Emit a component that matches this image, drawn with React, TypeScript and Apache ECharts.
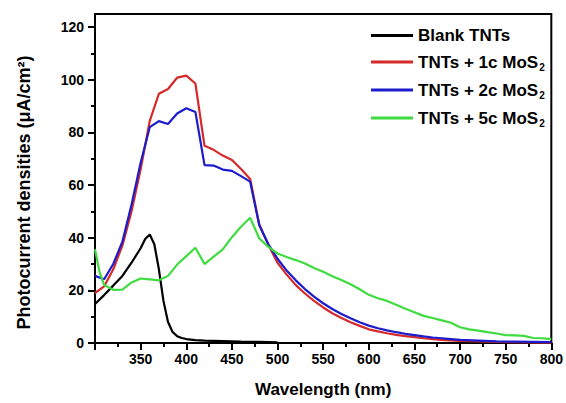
import React, { useEffect, useRef } from "react";
import * as echarts from "echarts";

const seriesNames = ["Blank TNTs", "TNTs + 1c MoS2", "TNTs + 2c MoS2", "TNTs + 5c MoS2"];
const seriesColors = ["#000000", "#d62a2a", "#1c1ccc", "#3fdc3f"];

const blankX = [300, 310, 320, 330, 340, 350, 355, 360, 365, 370, 375, 380, 385, 390, 395, 400, 410, 420, 440, 460, 480, 500];
const blankY = [14.8, 18.2, 21.8, 25.5, 30.5, 36, 39.5, 41.2, 37.5, 28, 16, 8, 4.2, 2.6, 1.9, 1.5, 1.1, 0.9, 0.7, 0.5, 0.4, 0.2];

const mosX = [300, 310, 320, 330, 340, 350, 360, 370, 380, 390, 400, 410, 420, 430, 440, 450, 460, 470, 480, 490, 500,
  510, 520, 530, 540, 550, 560, 570, 580, 590, 600, 610, 620, 630, 640, 650, 660, 670, 680, 690, 700, 720, 740, 760, 780, 800];
const mos1cY = [19, 21.5, 28, 37, 50, 66, 84.4, 94.7, 96.5, 100.8, 101.6, 98.6, 74.9, 73.4, 71.2, 69.5, 66.1, 62.3, 45, 37.2, 30.5,
  26, 22, 18.8, 16, 13.5, 11.3, 9.5, 7.9, 6.5, 5.2, 4.4, 3.7, 3.1, 2.6, 2.2, 1.8, 1.5, 1.2, 1.0, 0.8, 0.6, 0.4, 0.3, 0.2, 0.1];
const mos2cY = [25.5, 24.2, 30, 38.5, 52.5, 68.5, 82, 84.3, 83.2, 87.2, 89.2, 87.8, 67.6, 67.4, 65.9, 65.4, 63.4, 61.3, 44.7, 37.5, 32,
  27.5, 23.8, 20.5, 17.6, 15.1, 12.9, 11, 9.4, 7.9, 6.6, 5.6, 4.8, 4.1, 3.5, 3.0, 2.5, 2.1, 1.8, 1.5, 1.2, 0.9, 0.6, 0.5, 0.4, 0.3];

const mos5cX = [300, 305, 310, 320, 330, 340, 350, 360, 370, 380, 390, 400, 410, 420, 430, 440, 450, 460, 470, 480, 490, 500,
  510, 520, 530, 540, 550, 560, 570, 580, 590, 600, 610, 620, 630, 640, 650, 660, 670, 680, 690, 700,
  710, 720, 730, 740, 750, 760, 770, 780, 790, 800];
const mos5cY = [35.6, 27, 22, 20.2, 20.3, 23, 24.5, 24.2, 23.8, 25.5, 29.8, 33, 36.2, 30, 32.8, 35.6, 40.2, 44.2, 47.6, 39.7, 36.5, 34,
  32.7, 31.5, 30.2, 28.5, 27.1, 25.4, 23.9, 22.3, 20.4, 18.3, 17, 16, 14.5, 13, 11.7, 10.3, 9.5, 8.6, 7.7, 6,
  5.2, 4.7, 4.1, 3.6, 3.0, 2.9, 2.7, 1.9, 1.8, 1.5];

const yTicks = [0, 20, 40, 60, 80, 100, 120];

const FONT = "'Liberation Sans', Arial, sans-serif";

function pairs(xs: number[], ys: number[]) {
  return xs.map((x, i) => [x, ys[i]]);
}

export default function App() {
  const ref = useRef<HTMLDivElement>(null);
  useEffect(() => {
    if (!ref.current) return;
    const chart = echarts.init(ref.current, null, { renderer: "svg" });
    const datasets = [
      pairs(blankX, blankY),
      pairs(mosX, mos1cY),
      pairs(mosX, mos2cY),
      pairs(mos5cX, mos5cY),
    ];
    chart.setOption({
      animation: false,
      backgroundColor: "#ffffff",
      grid: {
        left: 95,
        right: 13,
        top: 14,
        bottom: 59,
        show: true,
        borderColor: "#000",
        borderWidth: 2,
        backgroundColor: "transparent",
      },
      legend: {
        orient: "vertical",
        left: 366,
        top: 22,
        itemWidth: 42,
        itemHeight: 3,
        itemGap: 8,
        icon: "rect",
        data: seriesNames.map((n, i) => ({
          name: n,
          itemStyle: { color: seriesColors[i] },
        })),
        formatter: (name: string) =>
          name.endsWith("MoS2") ? `{n|${name.slice(0, -1)}}{s|2}` : `{n|${name}}`,
        textStyle: {
          fontFamily: FONT,
          fontWeight: "bold",
          fontSize: 17,
          color: "#000",
          rich: {
            n: { fontFamily: FONT, fontWeight: "bold", fontSize: 17, color: "#000", lineHeight: 18 },
            s: { fontFamily: FONT, fontWeight: "bold", fontSize: 10, color: "#000", padding: [10, 0, 0, 1], lineHeight: 18 },
          },
        },
      },
      xAxis: {
        type: "value",
        min: 300,
        max: 800,
        interval: 50,
        name: "Wavelength (nm)",
        nameLocation: "middle",
        nameGap: 38,
        nameTextStyle: { fontFamily: FONT, fontWeight: "bold", fontSize: 17, color: "#000" },
        axisLine: { show: true, onZero: false, lineStyle: { color: "#000", width: 2 } },
        axisTick: { show: true, inside: false, length: 7, lineStyle: { color: "#000", width: 2 } },
        minorTick: { show: true, splitNumber: 2, length: 4, lineStyle: { color: "#000", width: 2 } },
        splitLine: { show: false },
        axisLabel: {
          margin: 9,
          fontFamily: FONT,
          fontWeight: "bold",
          fontSize: 14,
          color: "#000",
          formatter: (v: number) => (v === 300 ? "" : String(v)),
        },
      },
      yAxis: {
        type: "value",
        min: 0,
        max: 125,
        interval: 20,
        name: "Photocurrent densities (\u03bcA/cm\u00b2)",
        nameLocation: "middle",
        nameGap: 62,
        nameTextStyle: { fontFamily: FONT, fontWeight: "bold", fontSize: 18, color: "#000", padding: [0, 28, 0, 0] },
        axisLine: { show: true, onZero: false, lineStyle: { color: "#000", width: 2 } },
        axisTick: { show: true, inside: false, length: 7, customValues: yTicks, lineStyle: { color: "#000", width: 2 } },
        minorTick: { show: true, splitNumber: 2, length: 4, lineStyle: { color: "#000", width: 2 } },
        splitLine: { show: false },
        axisLabel: {
          margin: 11,
          fontFamily: FONT,
          fontWeight: "bold",
          fontSize: 14,
          color: "#000",
          formatter: (v: number) => (v % 20 === 0 ? String(v) : ""),
        },
      },
      series: seriesNames.map((n, i) => ({
        name: n,
        type: "line",
        data: datasets[i],
        showSymbol: false,
        symbol: "none",
        lineStyle: { color: seriesColors[i], width: 2.2 },
        itemStyle: { color: seriesColors[i] },
        z: 2 + i,
      })),
    });
    return () => chart.dispose();
  }, []);
  return (
    <div
      ref={ref}
      style={{ position: "fixed", left: 0, top: 0, width: 566, height: 403, background: "#fff" }}
    />
  );
}
